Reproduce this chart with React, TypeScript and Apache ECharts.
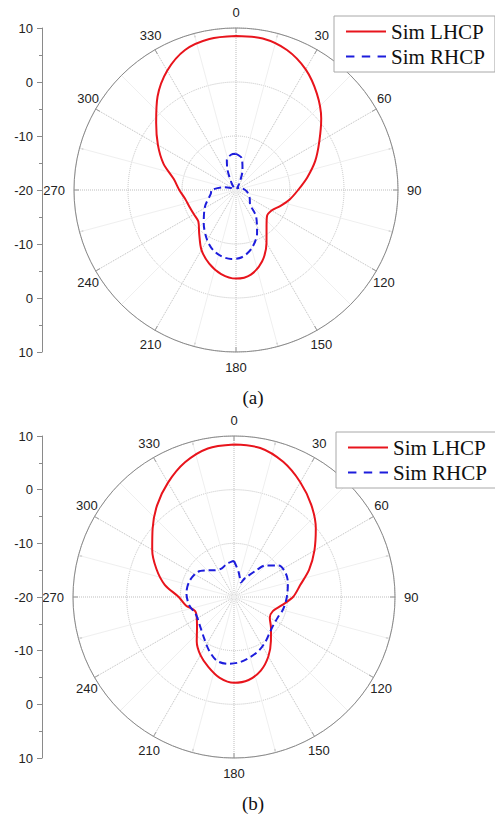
import React, { useEffect, useRef } from 'react';
import * as echarts from 'echarts';

// ---- data (dB vs angle in degrees) ----
const A_LHCP_ANG = [0, 10, 20, 30, 40, 50, 60, 70, 80, 90, 100, 110, 120, 130, 140, 150, 160, 170, 180, 190, 200, 210, 220, 230, 240, 250, 260, 270, 280, 290, 300, 310, 320, 330, 340, 350];
const A_LHCP_DB = [8.5, 8.5, 7.6, 5.8, 3.3, 0.6, -2.2, -4.4, -6.6, -8.5, -9.9, -11.3, -12.4, -12.5, -11.2, -8.7, -5.9, -4.1, -3.6, -4.2, -5.5, -7.2, -9.4, -10.9, -11.0, -10.85, -10.45, -9.5, -8.3, -5.7, -3.3, -0.7, 2.6, 5.5, 7.6, 8.4];

const A_RHCP_ANG = [0, 10, 18, 27, 35, 45, 60, 75, 90, 100, 110, 122, 134, 143, 154, 165, 175, 184, 192, 201, 210, 224, 242, 262, 270, 282, 292, 305, 318, 327, 337, 343, 352];
const A_RHCP_DB = [-13.3, -14.0, -16.1, -18.6, -19.6, -19.6, -19.2, -18.8, -18.3, -17.9, -17.5, -17.0, -16.4, -13.8, -11.1, -8.8, -7.5, -7.2, -7.4, -8.1, -9.3, -11.4, -13.5, -15.3, -15.5, -17.6, -19.0, -19.6, -19.4, -18.5, -16.0, -14.2, -13.4];

const B_LHCP_ANG = [0, 10, 20, 30, 40, 50, 60, 70, 80, 90, 100, 110, 120, 130, 140, 150, 160, 170, 180, 190, 200, 210, 220, 230, 240, 250, 260, 270, 280, 290, 300, 310, 320, 330, 340, 350];
const B_LHCP_DB = [8.4, 8.2, 6.8, 4.7, 2.4, -0.1, -2.7, -5.1, -7.5, -9.0, -11.0, -12.3, -12.3, -11.0, -9.3, -7.2, -5.4, -4.3, -4.0, -4.7, -6.1, -7.5, -9.2, -11.0, -12.0, -12.3, -10.9, -9.7, -6.9, -4.6, -2.4, -0.2, 2.3, 4.6, 6.7, 8.1];

const B_RHCP_ANG = [0, 10, 20, 25, 30, 40, 45, 55, 65, 75, 85, 95, 105, 115, 125, 135, 145, 155, 165, 175, 185, 195, 205, 215, 230, 245, 260, 275, 290, 305, 315, 325, 337, 347, 356];
const B_RHCP_DB = [-13.3, -15.2, -16.6, -17.0, -16.0, -13.5, -11.7, -9.8, -9.4, -9.6, -10.0, -10.3, -10.6, -11.0, -11.0, -10.6, -9.8, -9.0, -8.4, -7.8, -7.5, -7.7, -9.0, -10.4, -11.7, -12.2, -11.5, -11.1, -11.2, -11.8, -13.0, -13.9, -14.2, -13.7, -13.4];

const SERIES_NAMES = ['Sim LHCP', 'Sim RHCP'];
const CAPTIONS = ['(a)', '(b)'];

const RED = '#e8141c';
const BLUE = '#1d1ddc';
const SANS = '"Liberation Sans", Arial, sans-serif';
const SERIF = '"Liberation Serif", "Times New Roman", serif';

function closed(ang: number[], db: number[]) {
  const d = ang.map((a, i) => [db[i], a]);
  d.push([db[0], 360]);
  return d;
}

const PLOTS = [
  { cx: 236, cy: 190, r: 162, legendTop: 16, legendLeft: 334 },
  { cx: 234, cy: 597, r: 161, legendTop: 432, legendLeft: 336 },
];

const labelFont = { fontSize: 13, fontFamily: SANS, color: '#222' };

function angleLabel(v: number) {
  if (v === 360) return '';
  if (v === 30 || v === 60) return `{l2|${v}}`;
  if (v === 120 || v === 150) return `{l3|${v}}`;
  if (v === 210 || v === 240 || v === 300 || v === 330) return `{r3|${v}}`;
  return String(v);
}

function buildOption() {
  const polar: any[] = [];
  const angleAxis: any[] = [];
  const radiusAxis: any[] = [];
  const grid: any[] = [];
  const xAxis: any[] = [];
  const yAxis: any[] = [];
  const legend: any[] = [];
  const graphic: any[] = [];

  PLOTS.forEach((p, i) => {
    polar.push({ center: [p.cx, p.cy], radius: p.r });
    angleAxis.push({
      polarIndex: i,
      type: 'value',
      min: 0,
      max: 360,
      interval: 30,
      startAngle: 90,
      clockwise: true,
      axisLine: { show: true, lineStyle: { color: '#8a8a8a', width: 1 } },
      axisTick: { show: true, inside: true, length: 5, lineStyle: { color: '#8a8a8a' } },
      minorTick: { show: true, splitNumber: 2, length: 4, lineStyle: { color: '#8a8a8a' } },
      axisLabel: {
        show: true,
        margin: 9,
        ...labelFont,
        formatter: angleLabel,
        rich: {
          l2: { ...labelFont, padding: [0, 0, 0, -7] },
          l3: { ...labelFont, padding: [0, 0, 0, -11] },
          r3: { ...labelFont, padding: [0, -11, 0, 0] },
        },
      },
      splitLine: { show: true, lineStyle: { color: '#bdbdbd', type: 'dotted', width: 1 } },
      minorSplitLine: { show: true, lineStyle: { color: '#efefef', width: 1 } },
    });
    radiusAxis.push({
      polarIndex: i,
      type: 'value',
      min: -20,
      max: 10,
      interval: 10,
      axisLine: { show: false },
      axisTick: { show: false },
      axisLabel: { show: false },
      splitLine: { show: true, lineStyle: { color: '#c4c4c4', type: 'dotted', width: 1 } },
    });
    grid.push({ left: 42, top: p.cy - p.r, width: 2, height: 2 * p.r });
    xAxis.push({ gridIndex: i, type: 'value', show: false, min: 0, max: 1 });
    yAxis.push({
      gridIndex: i,
      type: 'value',
      min: -30,
      max: 30,
      interval: 10,
      position: 'left',
      axisLine: { show: true, lineStyle: { color: '#8a8a8a' } },
      axisTick: { show: true, length: 5, lineStyle: { color: '#8a8a8a' } },
      minorTick: { show: true, splitNumber: 2, length: 3, lineStyle: { color: '#8a8a8a' } },
      splitLine: { show: false },
      axisLabel: {
        margin: 9,
        ...labelFont,
        formatter: (v: number) => String(Math.abs(v) - 20),
      },
    });
    legend.push({
      data: [
        { name: SERIES_NAMES[0], icon: 'path://M0,0H40V2H0Z' },
        { name: SERIES_NAMES[1], icon: 'path://M0,0H8V2H0Z M15,0H23V2H15Z M30,0H38V2H30Z' },
      ],
      orient: 'vertical',
      left: p.legendLeft,
      top: p.legendTop,
      itemWidth: 40,
      itemHeight: 14,
      itemGap: 4,
      padding: [5, 10, 5, 12],
      borderColor: '#a8a8a8',
      borderWidth: 1,
      backgroundColor: '#fff',
      selectedMode: false,
      textStyle: { fontFamily: SERIF, fontSize: 21, color: '#111' },
    });
    graphic.push({
      type: 'text',
      x: 253,
      y: i === 0 ? 397 : 803,
      style: {
        text: CAPTIONS[i],
        font: '19px ' + SERIF,
        fill: '#111',
        align: 'center',
        verticalAlign: 'middle',
        textAlign: 'center',
        textVerticalAlign: 'middle',
      },
    });
  });

  const mk = (name: string, pi: number, data: number[][], color: string, dashed: boolean) => ({
    type: 'line',
    name,
    coordinateSystem: 'polar',
    polarIndex: pi,
    data,
    symbol: 'none',
    showSymbol: false,
    smooth: 0.3,
    z: 5,
    lineStyle: dashed ? { color, width: 2, type: [7, 4] } : { color, width: 2 },
    itemStyle: { color },
  });

  const series = [
    mk(SERIES_NAMES[0], 0, closed(A_LHCP_ANG, A_LHCP_DB), RED, false),
    mk(SERIES_NAMES[1], 0, closed(A_RHCP_ANG, A_RHCP_DB), BLUE, true),
    mk(SERIES_NAMES[0], 1, closed(B_LHCP_ANG, B_LHCP_DB), RED, false),
    mk(SERIES_NAMES[1], 1, closed(B_RHCP_ANG, B_RHCP_DB), BLUE, true),
  ];

  return {
    animation: false,
    backgroundColor: '#fff',
    polar,
    angleAxis,
    radiusAxis,
    grid,
    xAxis,
    yAxis,
    legend,
    graphic,
    series,
  };
}

export default function App() {
  const ref = useRef<HTMLDivElement>(null);
  useEffect(() => {
    if (!ref.current) return;
    const chart = echarts.init(ref.current, null, { renderer: 'svg' });
    chart.setOption(buildOption() as any);
    return () => chart.dispose();
  }, []);
  return (
    <div
      ref={ref}
      style={{ position: 'absolute', left: 0, top: 0, width: 495, height: 817, background: '#fff' }}
    />
  );
}
